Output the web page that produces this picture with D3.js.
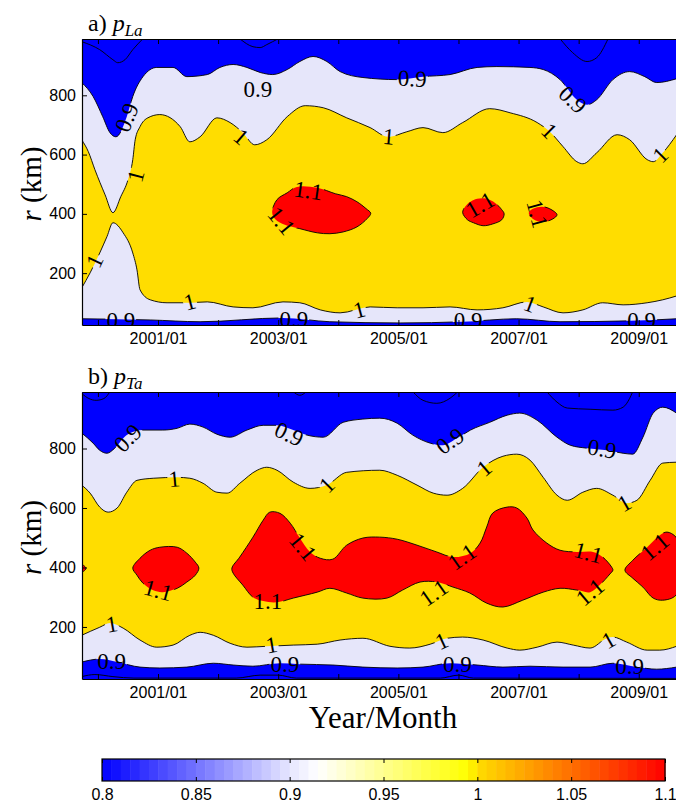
<!DOCTYPE html>
<html>
<head>
<meta charset="utf-8">
<script src="https://cdn.jsdelivr.net/npm/d3@7"></script>
<style>
body { margin: 0; background: #fff; }
svg { display: block; }
</style>
</head>
<body>
<svg width="676" height="804"></svg>
<script>
// ---- data: contour boundaries, [decimal year, r in km] ----
var yearTicks = [2000, 2001, 2002, 2003, 2004, 2005, 2006, 2007, 2008, 2009];
var yearLabels = [2001, 2003, 2005, 2007, 2009];
var rTicks = [200, 400, 600, 800];
var cbarTicks = [0.8, 0.85, 0.9, 0.95, 1, 1.05, 1.1];

// panel a) p_La
var aUpper09 = [[1999.73,843],[1999.92,796],[2000.08,728],[2000.2,674],[2000.3,660],[2000.48,728],[2000.58,796],[2000.75,863],[2000.98,894],[2001.25,894],[2001.48,863],[2001.82,870],[2002.03,894],[2002.25,904],[2002.48,894],[2002.7,877],[2002.91,870],[2003.15,887],[2003.36,914],[2003.58,931],[2003.81,914],[2004.03,880],[2004.41,860],[2004.98,853],[2005.41,863],[2005.86,870],[2006.31,894],[2006.64,897],[2007.19,894],[2007.41,887],[2007.69,853],[2007.97,785],[2008.14,768],[2008.3,785],[2008.57,853],[2008.85,880],[2009.1,863],[2009.3,843],[2009.63,856]];
var aUpper1 = [[1999.73,650],[1999.84,610],[1999.95,549],[2000.12,464],[2000.25,404],[2000.38,458],[2000.5,515],[2000.58,583],[2000.62,650],[2000.7,694],[2000.83,724],[2001.03,735],[2001.37,694],[2001.53,643],[2001.7,660],[2001.98,724],[2002.2,708],[2002.41,674],[2002.61,633],[2002.81,650],[2003.15,728],[2003.45,765],[2003.75,758],[2004.14,724],[2004.53,691],[2004.83,660],[2005.14,677],[2005.41,691],[2005.74,674],[2006.07,708],[2006.52,755],[2006.86,741],[2007.31,708],[2007.52,677],[2007.74,627],[2007.97,576],[2008.07,569],[2008.3,606],[2008.64,667],[2008.85,650],[2009.14,583],[2009.24,576],[2009.4,606],[2009.63,667]];
var aLower1 = [[1999.73,150],[1999.87,201],[2000.03,268],[2000.15,323],[2000.25,370],[2000.42,336],[2000.58,268],[2000.65,211],[2000.7,144],[2000.87,110],[2001.15,100],[2001.48,100],[2001.82,103],[2002.25,86],[2002.58,83],[2003.08,103],[2003.36,100],[2003.7,76],[2004.03,66],[2004.53,86],[2004.98,83],[2005.41,83],[2005.86,86],[2006.31,76],[2006.74,83],[2007.14,103],[2007.41,86],[2007.74,66],[2008.07,76],[2008.4,100],[2008.74,93],[2009.14,100],[2009.4,110],[2009.63,123]];
var aLower09 = [[1999.73,46],[2000.87,42],[2001.7,36],[2003.08,49],[2003.86,36],[2005.03,32],[2006.07,36],[2006.97,46],[2007.69,36],[2008.85,39],[2009.63,46]];
var aLines08 = [
  [[1999.73,981],[2000.03,954],[2000.25,920],[2000.33,910],[2000.45,920],[2000.58,954],[2000.75,991]],
  [[2002.36,991],[2002.58,964],[2002.7,961],[2002.81,971],[2003.0,991]],
  [[2007.69,991],[2007.9,944],[2008.14,914],[2008.3,927],[2008.49,991]]
];
var aBlobs11 = [
  [[2002.9,404],[2002.98,448],[2003.15,471],[2003.31,491],[2003.65,488],[2003.95,468],[2004.14,458],[2004.31,441],[2004.46,418],[2004.54,402],[2004.48,384],[2004.31,356],[2004.08,339],[2003.86,333],[2003.65,336],[2003.36,350],[2003.11,363],[2002.96,380]],
  [[2006.07,404],[2006.11,424],[2006.2,441],[2006.31,451],[2006.47,451],[2006.61,437],[2006.72,414],[2006.76,400],[2006.72,380],[2006.57,366],[2006.41,360],[2006.25,370],[2006.15,380]],
  [[2007.17,404],[2007.24,417],[2007.39,424],[2007.52,417],[2007.64,397],[2007.57,383],[2007.41,373],[2007.24,383]]
];
// contour labels: [year, r, text, angle]
var aLabels = [
  [2000.48,725,"0.9",-68],[2002.66,819,"0.9",0],[2005.23,856,"0.9",3],[2007.9,785,"0.9",43],
  [2002.38,660,"1",40],[2004.84,660,"1",5],[2007.51,680,"1",45],[2009.36,598,"1",-45],
  [2000.63,528,"1",-75],[1999.95,241,"1",-65],[2001.53,103,"1",-15],[2004.35,76,"1",-15],[2007.19,96,"1",20],
  [2003.5,478,"1.1",8],[2003.05,376,"1.1",50],[2006.36,430,"1.1",-30],[2007.31,400,"1.1",75],
  [2000.38,42,"0.9",0],[2003.26,45,"0.9",0],[2006.16,42,"0.9",0],[2009.05,42,"0.9",0]
];

// panel b) p_Ta
var bUpper09 = [[1999.73,852],[1999.92,818],[2000.03,794],[2000.15,784],[2000.28,801],[2000.48,845],[2000.75,862],[2001.08,862],[2001.32,868],[2001.53,882],[2001.75,872],[2001.98,848],[2002.2,838],[2002.48,862],[2002.75,878],[2002.98,878],[2003.25,862],[2003.48,845],[2003.75,838],[2004.08,888],[2004.41,899],[2004.69,902],[2004.98,885],[2005.24,845],[2005.53,818],[2005.74,811],[2005.98,835],[2006.2,862],[2006.52,888],[2006.81,912],[2007.02,919],[2007.31,895],[2007.64,838],[2007.86,811],[2008.14,801],[2008.47,794],[2008.74,784],[2008.9,781],[2009.07,838],[2009.24,919],[2009.4,939],[2009.63,919]];
var bUpper1 = [[1999.73,677],[1999.87,650],[2000.03,603],[2000.17,586],[2000.32,600],[2000.48,653],[2000.65,693],[2000.92,700],[2001.32,703],[2001.53,700],[2001.75,683],[2001.98,653],[2002.15,650],[2002.36,683],[2002.65,727],[2002.81,737],[2002.98,727],[2003.25,687],[2003.53,666],[2003.81,677],[2004.14,720],[2004.69,727],[2004.98,710],[2005.31,677],[2005.58,650],[2005.81,643],[2006.07,666],[2006.41,737],[2006.74,774],[2006.97,781],[2007.19,761],[2007.41,703],[2007.64,643],[2007.81,626],[2008.07,653],[2008.3,666],[2008.57,643],[2008.8,616],[2008.97,626],[2009.19,693],[2009.4,751],[2009.63,754]];
var bLower1 = [[1999.73,172],[2000.03,199],[2000.2,213],[2000.42,196],[2000.7,156],[2000.98,132],[2001.25,139],[2001.53,172],[2001.7,182],[2001.92,172],[2002.2,145],[2002.48,132],[2002.81,135],[2003.25,139],[2003.65,142],[2004.03,156],[2004.41,162],[2004.86,135],[2005.19,129],[2005.53,142],[2005.81,162],[2006.07,166],[2006.41,156],[2006.81,129],[2007.02,122],[2007.31,132],[2007.64,149],[2007.91,139],[2008.19,129],[2008.47,162],[2008.57,166],[2008.8,149],[2009.14,122],[2009.35,122],[2009.63,135]];
var bLower09 = [[1999.73,82],[2000.03,92],[2000.32,82],[2000.7,65],[2001.03,62],[2001.48,65],[2001.92,78],[2002.25,72],[2002.58,68],[2003.03,78],[2003.36,75],[2003.91,72],[2004.41,65],[2004.98,62],[2005.41,65],[2005.86,78],[2006.31,72],[2006.74,65],[2007.19,68],[2007.74,65],[2008.19,65],[2008.57,78],[2008.97,65],[2009.3,58],[2009.63,65]];
var bLines08 = [
  [[1999.73,985],[1999.85,968],[1999.97,962],[2000.1,968],[2000.2,991]],
  [[2003.25,991],[2003.36,979],[2003.47,991]],
  [[2005.24,991],[2005.41,962],[2005.64,952],[2005.86,969],[2005.99,991]],
  [[2007.47,991],[2007.64,956],[2007.81,936],[2008.19,932],[2008.57,929],[2008.74,939],[2008.85,969],[2008.9,991]],
  [[1999.73,33],[1999.95,40],[2000.25,33],[2000.6,28],[2002.3,28],[2002.7,38],[2003.0,38],[2003.3,28],[2005.7,28],[2006.0,38],[2006.25,28],[2009.63,27]]
];
var bBlobs11 = [
  [[1999.68,410],[1999.76,407],[1999.8,397],[1999.76,387],[1999.68,384]],
  [[2000.58,398],[2000.7,431],[2000.87,458],[2001.03,468],[2001.32,468],[2001.48,448],[2001.62,418],[2001.68,398],[2001.62,374],[2001.48,351],[2001.32,330],[2001.08,317],[2000.92,323],[2000.75,347],[2000.65,374]],
  [[2002.23,398],[2002.36,435],[2002.58,502],[2002.75,559],[2002.86,586],[2003.03,582],[2003.2,549],[2003.36,499],[2003.53,452],[2003.7,431],[2003.91,428],[2004.14,475],[2004.41,499],[2004.69,502],[2004.98,495],[2005.31,475],[2005.64,452],[2005.91,435],[2006.2,448],[2006.36,482],[2006.47,536],[2006.57,583],[2006.81,603],[2006.97,600],[2007.14,566],[2007.24,526],[2007.47,482],[2007.69,458],[2007.97,452],[2008.24,452],[2008.4,435],[2008.55,401],[2008.57,391],[2008.52,378],[2008.35,341],[2008.19,317],[2007.97,324],[2007.69,330],[2007.41,317],[2007.07,290],[2006.74,267],[2006.47,280],[2006.19,314],[2005.91,334],[2005.64,351],[2005.36,351],[2005.07,324],[2004.81,297],[2004.41,297],[2004.14,314],[2003.86,330],[2003.65,317],[2003.25,297],[2002.98,283],[2002.75,287],[2002.58,300],[2002.41,341],[2002.25,381]],
  [[2008.77,391],[2008.9,424],[2009.14,468],[2009.35,508],[2009.47,519],[2009.62,502],[2009.77,424],[2009.62,307],[2009.4,290],[2009.24,297],[2009.07,334],[2008.9,364]]
];
var bLabels = [
  [2000.5,835,"0.9",-45],[2003.18,848,"0.9",25],[2005.86,825,"0.9",-35],[2008.39,798,"0.9",10],
  [2001.27,697,"1",-5],[2003.81,677,"1",-45],[2006.43,734,"1",-40],[2008.76,616,"1",-30],
  [2000.23,209,"1",-10],[2002.89,139,"1",-10],[2005.72,152,"1",-25],[2008.5,155,"1",-30],
  [2000.23,85,"0.9",0],[2003.11,75,"0.9",0],[2005.98,75,"0.9",0],[2008.85,68,"0.9",0],
  [2001.0,323,"1.1",15],[2002.83,287,"1.1",0],[2003.41,469,"1.1",50],[2006.06,435,"1.1",-35],
  [2005.59,314,"1.1",-35],[2008.16,449,"1.1",15],[2008.19,317,"1.1",-40],[2009.27,469,"1.1",-40]
];

// colormap stops (value, rgb)
var cmapStops = [[0.8,[0,0,255]],[0.9,[230,230,255]],[0.915,[255,255,255]],[0.995,[255,255,0]],[1.0,[255,221,0]],[1.1,[255,0,0]]];

var svg = d3.select("svg"),
    W = 676, H = 804,
    xLeft = 82, xRight = 676;
var x = d3.scaleLinear().domain([1999.735, 2009.62]).range([xLeft, xRight]);

var serif = "'Liberation Serif', 'DejaVu Serif', serif",
    sans = "'Liberation Sans', Arial, sans-serif";
var fillLow = "#0000ff", fill09 = "#e6e6fa", fill1 = "#ffdd00", fill11 = "#ff0000";
var defs = svg.append("defs");

var panels = [
  {top: 39, bottom: 325, title: "a) ", sub: "La", upper09: aUpper09, upper1: aUpper1, lower1: aLower1, lower09: aLower09, extra: aLines08, blobs: aBlobs11, labels: aLabels},
  {top: 392, bottom: 679, title: "b) ", sub: "Ta", upper09: bUpper09, upper1: bUpper1, lower1: bLower1, lower09: bLower09, extra: bLines08, blobs: bBlobs11, labels: bLabels}
];

panels.forEach(function(p, i) {
  var y = d3.scaleLinear().domain([25, 990]).range([p.bottom, p.top]);
  var clipId = "clip" + i, maskId = "mask" + i;
  defs.append("clipPath").attr("id", clipId)
      .append("rect").attr("x", xLeft).attr("y", p.top).attr("width", xRight - xLeft).attr("height", p.bottom - p.top);
  var mask = defs.append("mask").attr("id", maskId).attr("maskUnits", "userSpaceOnUse")
      .attr("x", 0).attr("y", 0).attr("width", W).attr("height", H);
  mask.append("rect").attr("width", W).attr("height", H).attr("fill", "white");

  var line = d3.line().x(function(d) { return x(d[0]); }).y(function(d) { return y(d[1]); }).curve(d3.curveMonotoneX);
  var areaDown = d3.area().x(function(d) { return x(d[0]); }).y0(p.bottom).y1(function(d) { return y(d[1]); }).curve(d3.curveMonotoneX);
  var areaUp = d3.area().x(function(d) { return x(d[0]); }).y0(p.top).y1(function(d) { return y(d[1]); }).curve(d3.curveMonotoneX);
  var blob = d3.line().x(function(d) { return x(d[0]); }).y(function(d) { return y(d[1]); }).curve(d3.curveCatmullRomClosed.alpha(0.5));

  var g = svg.append("g").attr("clip-path", "url(#" + clipId + ")");
  // filled levels, painted from the edges inwards
  g.append("rect").attr("x", xLeft).attr("y", p.top).attr("width", xRight - xLeft).attr("height", p.bottom - p.top).attr("fill", fill09);
  g.append("path").datum(p.upper1).attr("d", areaDown).attr("fill", fill1);
  g.append("path").datum(p.lower1).attr("d", areaDown).attr("fill", fill09);
  g.append("path").datum(p.lower09).attr("d", areaDown).attr("fill", fillLow);
  g.append("path").datum(p.upper09).attr("d", areaUp).attr("fill", fillLow);
  g.selectAll(null).data(p.blobs).enter().append("path").attr("d", blob).attr("fill", fill11);

  // contour lines (broken under the labels through the mask)
  var lines = g.append("g").attr("mask", "url(#" + maskId + ")")
      .attr("fill", "none").attr("stroke", "#000").attr("stroke-width", 0.9);
  lines.selectAll(null).data([p.upper09, p.upper1, p.lower1, p.lower09].concat(p.extra))
      .enter().append("path").attr("d", line);
  lines.selectAll(null).data(p.blobs).enter().append("path").attr("d", blob);

  var labs = g.append("g").attr("font-family", serif).attr("font-size", 23).attr("fill", "#000");
  p.labels.forEach(function(l) {
    var tr = "translate(" + x(l[0]) + "," + y(l[1]) + ") rotate(" + l[3] + ")";
    var t = labs.append("text").attr("transform", tr).attr("text-anchor", "middle").attr("dy", "0.33em").text(l[2]);
    var bb = t.node().getBBox();
    mask.append("rect").attr("transform", tr).attr("x", bb.x - 1).attr("y", -9).attr("width", bb.width + 2).attr("height", 18).attr("fill", "black");
  });

  // axes: ticks point inward
  var bottomAxis = svg.append("g").attr("transform", "translate(0," + p.bottom + ")")
      .call(d3.axisBottom(x).tickValues(yearTicks).tickSizeInner(-5).tickSizeOuter(0).tickPadding(8)
        .tickFormat(function(d) { return yearLabels.indexOf(d) >= 0 ? d + "/01" : ""; }));
  var topAxis = svg.append("g").attr("transform", "translate(0," + p.top + ")")
      .call(d3.axisTop(x).tickValues(yearTicks).tickSizeInner(-5).tickSizeOuter(0).tickFormat(""));
  var leftAxis = svg.append("g").attr("transform", "translate(" + xLeft + ",0)")
      .call(d3.axisLeft(y).tickValues(rTicks).tickSizeInner(-5).tickSizeOuter(0).tickPadding(6));
  [bottomAxis, topAxis, leftAxis].forEach(function(a) {
    a.attr("font-family", sans).attr("font-size", 16);
    a.selectAll("path.domain").attr("stroke", "#000").attr("stroke-width", 1.2);
    a.selectAll(".tick line").attr("stroke", "#000");
    a.selectAll(".tick text").attr("fill", "#000");
  });

  // panel title
  var title = svg.append("text").attr("x", 88).attr("y", p.top - 8)
      .attr("font-family", serif).attr("font-size", 24);
  title.append("tspan").text(p.title);
  title.append("tspan").attr("font-style", "italic").text("p");
  title.append("tspan").attr("font-style", "italic").attr("font-size", 17).attr("dy", 5).text(p.sub);

  // y label
  var yl = svg.append("text").attr("transform", "translate(41," + ((p.top + p.bottom) / 2 + 2) + ") rotate(-90)")
      .attr("text-anchor", "middle").attr("font-family", serif).attr("font-size", 29);
  yl.append("tspan").attr("font-style", "italic").text("r");
  yl.append("tspan").text(" (km)");
});

svg.append("text").attr("x", 383).attr("y", 728).attr("text-anchor", "middle")
   .attr("font-family", serif).attr("font-size", 31)
   .text("Year/Month");

// colorbar
function cmap(v) {
  for (var k = 1; k < cmapStops.length; k++) {
    if (v <= cmapStops[k][0]) {
      var a = cmapStops[k - 1], b = cmapStops[k];
      var f = (v - a[0]) / (b[0] - a[0]);
      return d3.rgb(a[1][0] + f * (b[1][0] - a[1][0]), a[1][1] + f * (b[1][1] - a[1][1]), a[1][2] + f * (b[1][2] - a[1][2]));
    }
  }
  return d3.rgb(255, 0, 0);
}
var cx = d3.scaleLinear().domain([0.8, 1.1]).range([102, 665]);
var cbTop = 759, cbBot = 781;
var steps = d3.range(60).map(function(k) { return 0.8 + k * 0.005; });
svg.append("g").selectAll("rect").data(steps).enter().append("rect")
   .attr("x", function(d) { return cx(d); })
   .attr("y", cbTop)
   .attr("width", cx(0.805) - cx(0.8) + 0.5)
   .attr("height", cbBot - cbTop)
   .attr("fill", function(d) { return cmap(d + 0.0025); });
svg.append("rect").attr("x", 102).attr("y", cbTop).attr("width", 563).attr("height", cbBot - cbTop)
   .attr("fill", "none").attr("stroke", "#000").attr("stroke-width", 1.2);
var cbAxis = svg.append("g").attr("transform", "translate(0," + cbBot + ")")
   .call(d3.axisBottom(cx).tickValues(cbarTicks).tickSizeInner(-4).tickSizeOuter(0).tickPadding(8).tickFormat(d3.format("")));
cbAxis.attr("font-family", sans).attr("font-size", 16);
cbAxis.selectAll("path.domain").remove();
cbAxis.selectAll(".tick line").attr("stroke", "#000");
cbAxis.selectAll(".tick text").attr("fill", "#000");
svg.append("g").attr("transform", "translate(0," + cbTop + ")")
   .call(d3.axisTop(cx).tickValues(cbarTicks).tickSizeInner(-4).tickSizeOuter(0).tickFormat(""))
   .call(function(a) { a.select("path.domain").remove(); a.selectAll(".tick line").attr("stroke", "#000"); });
</script>
</body>
</html>
